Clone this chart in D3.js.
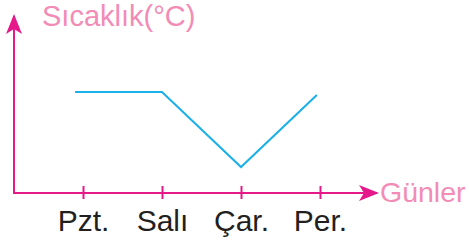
<!DOCTYPE html>
<html>
<head>
<meta charset="utf-8">
<script src="https://cdn.jsdelivr.net/npm/d3@7"></script>
<style>
  html, body { margin: 0; padding: 0; background: #fff; }
  svg { display: block; font-family: "Liberation Sans", Arial, sans-serif; }
</style>
</head>
<body>
<script>
// chart data
const days = ["Pzt.", "Salı", "Çar.", "Per."];
// where each reading sits along the day axis (0 = Pzt., 3 = Per.)
const dayPos = [-0.1, 1, 2, 2.96];
const temps = [20, 20, 5, 19.4];
const yTitle = "Sıcaklık(°C)";
const xTitle = "Günler";

const width = 469;
const height = 244;
const axisColor = "#e5198a";
const textPink = "#f28cb6";
const lineColor = "#1ab0e8";

const origin = { x: 14, y: 193 };

const svg = d3
  .select("body")
  .append("svg")
  .attr("width", width)
  .attr("height", height)
  .attr("viewBox", [0, 0, width, height]);

// scales
const xScale = d3.scalePoint().domain(days).range([83, 320]);
const xPos = d3.scaleLinear().domain([0, 3]).range([83, 320]);
const yScale = d3.scaleLinear().domain([0, 20]).range([192, 92]);

// arrow heads
const defs = svg.append("defs");
defs
  .append("marker")
  .attr("id", "arrow")
  .attr("viewBox", "0 0 20 16")
  .attr("refX", 18)
  .attr("refY", 8)
  .attr("markerWidth", 20)
  .attr("markerHeight", 16)
  .attr("markerUnits", "userSpaceOnUse")
  .attr("orient", "auto")
  .append("path")
  .attr("d", "M0,0 L20,8 L0,16 L5,8 Z")
  .attr("fill", axisColor);

// y axis
svg
  .append("line")
  .attr("x1", origin.x)
  .attr("y1", origin.y)
  .attr("x2", origin.x)
  .attr("y2", 16)
  .attr("stroke", axisColor)
  .attr("stroke-width", 2)
  .attr("marker-end", "url(#arrow)");

// x axis
const xAxis = d3.axisBottom(xScale).tickSize(6);
const gx = svg
  .append("g")
  .attr("transform", `translate(0,${origin.y})`)
  .call(xAxis);
gx.select(".domain").remove();
gx.selectAll(".tick line")
  .attr("y1", -7)
  .attr("y2", 6)
  .attr("stroke", axisColor)
  .attr("stroke-width", 2);
gx.selectAll(".tick text")
  .attr("y", 38)
  .attr("dy", 0)
  .attr("fill", "#231f20")
  .attr("font-size", 30)
  .attr("font-family", "Liberation Sans, Arial, sans-serif");

svg
  .append("line")
  .attr("x1", origin.x - 1)
  .attr("y1", origin.y)
  .attr("x2", 377)
  .attr("y2", origin.y)
  .attr("stroke", axisColor)
  .attr("stroke-width", 2)
  .attr("marker-end", "url(#arrow)");

// axis titles
svg
  .append("text")
  .attr("x", 42)
  .attr("y", 26)
  .attr("fill", textPink)
  .attr("font-size", 29)
  .text(yTitle);

svg
  .append("text")
  .attr("x", 380)
  .attr("y", 202)
  .attr("fill", textPink)
  .attr("font-size", 28.5)
  .text(xTitle);

// data line
const line = d3
  .line()
  .x((d, i) => xPos(dayPos[i]))
  .y((d) => yScale(d));

svg
  .append("path")
  .attr("d", line(temps))
  .attr("fill", "none")
  .attr("stroke", lineColor)
  .attr("stroke-width", 2);
</script>
</body>
</html>
